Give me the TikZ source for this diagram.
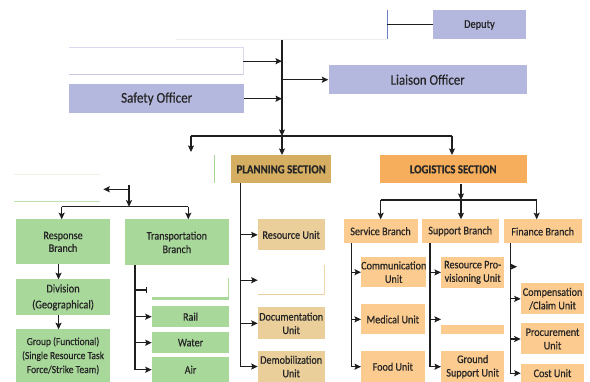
\documentclass[tikz,border=0pt]{standalone}
\usepackage{fontspec}
\setmainfont{Carlito}[FakeStretch=0.88, RawFeature={embolden=0.5}]
\usetikzlibrary{arrows.meta}
\definecolor{lav}{HTML}{B5B8DE}
\definecolor{gold}{HTML}{D5AE62}
\definecolor{tanu}{HTML}{EBCF9B}
\definecolor{org}{HTML}{F7AE5C}
\definecolor{lorg}{HTML}{FCCB8F}
\definecolor{grn}{HTML}{A9D89B}
\definecolor{txt}{HTML}{262626}
\definecolor{lnc}{HTML}{1E1E1E}
\tikzset{
 box/.style={inner sep=0pt, anchor=north west, text=txt, align=center, font=\fontsize{11.5}{13.5}\selectfont},
 arr/.style={draw=lnc, line width=1.2pt, -{Stealth[length=6.5pt,width=6pt,inset=1.2pt]}},
 conn/.style={draw=lnc, line width=1.2pt},
 faint/.style={line width=0.8pt},
}
\begin{document}
\begin{tikzpicture}[x=1pt,y=-1pt]
\useasboundingbox (0,0) rectangle (590,382);
\fill[white] (0,0) rectangle (590,382);

% faint remnants
\draw[faint, draw=black!7, line width=0.6pt] (176,39.3) -- (387,39.3);
\draw[faint, draw={rgb,255:red,107;green,127;blue,198}, line width=0.7pt] (387,10) -- (387,39.3);
\draw[faint, draw={rgb,255:red,217;green,218;blue,238}] (69,47.3) -- (243,47.3) -- (243,75);
\draw[faint, draw={rgb,255:red,197;green,199;blue,229}, line width=1.3pt] (69,74.5) -- (243,74.5);
\draw[faint, draw={rgb,255:red,243;green,239;blue,227}] (14.3,174.3) -- (100,174.3);
\draw[faint, draw={rgb,255:red,189;green,226;blue,177}, line width=1.4pt] (14.3,201.7) -- (100,201.7);
\draw[faint, draw={rgb,255:red,166;green,215;blue,151}, line width=1pt] (214,155) -- (214,183.3);
\draw[faint, draw={rgb,255:red,239;green,216;blue,174}] (324,265) -- (324,295);
\draw[faint, draw={rgb,255:red,233;green,207;blue,160}, line width=1.3pt] (257.7,294.5) -- (324.3,294.5);
\draw[faint, draw={rgb,255:red,180;green,220;blue,166}] (228.5,278.3) -- (228.5,297);
\fill[grn] (151.7,296.7) rectangle (229,300);
\fill[lorg] (441,325) rectangle (504,334.3);

% top
\node[box, minimum width=174pt, minimum height=28pt] (blank) at (69,47) {};
\node[box, fill=lav, minimum width=175pt, minimum height=29pt, font=\fontsize{14.8}{16}\selectfont] (safety) at (69,84) {Safety Officer};
\node[box, fill=lav, minimum width=92.5pt, minimum height=29pt, font=\fontsize{11.8}{14}\selectfont] (deputy) at (433,10.3) {Deputy};
\node[box, fill=lav, minimum width=198.4pt, minimum height=29pt, font=\fontsize{14.6}{16}\selectfont] (liaison) at (328.3,65) {Liaison Officer};

% planning
\node[box, fill=gold, minimum width=100pt, minimum height=28.3pt, font=\fontsize{12.3}{14}\selectfont\bfseries] (plan) at (231,155) {PLANNING SECTION};
\node[box, fill=tanu, minimum width=66.6pt, minimum height=30.7pt] (ru) at (257.7,219.3) {Resource Unit};
\node[box, minimum width=66.6pt, minimum height=30pt] (pe) at (257.7,265) {};
\node[box, fill=tanu, minimum width=66.6pt, minimum height=31.7pt] (du) at (257.7,307.3) {Documentation\\Unit};
\node[box, fill=tanu, minimum width=66.6pt, minimum height=31.3pt] (dm) at (257.7,350.7) {Demobilization\\Unit};

% logistics
\node[box, fill=org, minimum width=147.4pt, minimum height=28.3pt, font=\fontsize{12.3}{14}\selectfont\bfseries] (log) at (379.3,155) {LOGISTICS SECTION};
\node[box, fill=lorg, minimum width=74pt, minimum height=23.4pt] (sb) at (343.3,219.3) {Service Branch};
\node[box, fill=lorg, minimum width=76.6pt, minimum height=23.4pt] (spb) at (421.7,219.3) {Support Branch};
\node[box, fill=lorg, minimum width=78.4pt, minimum height=24pt] (fb) at (503.3,219.3) {Finance Branch};
\node[box, fill=lorg, minimum width=63.3pt, minimum height=30.6pt] (cu) at (361,256.7) {Communication\\Unit};
\node[box, fill=lorg, minimum width=63.3pt, minimum height=30.3pt] (mu) at (361,304) {Medical Unit};
\node[box, fill=lorg, minimum width=63.3pt, minimum height=31pt] (fu) at (361,351) {Food Unit};
\node[box, fill=lorg, minimum width=63pt, minimum height=31pt] (rp) at (441,256.7) {Resource Pro-\\visioning Unit};
\node[box, minimum width=63pt, minimum height=30.3pt] (se) at (441,304) {};
\node[box, fill=lorg, minimum width=63pt, minimum height=31pt] (gs) at (441,351) {Ground\\Support Unit};
\node[box, fill=lorg, minimum width=63.3pt, minimum height=30.7pt] (cc) at (520.7,283.3) {Compensation\\/Claim Unit};
\node[box, fill=lorg, minimum width=63.3pt, minimum height=31pt] (pu) at (520.7,323.3) {Procurement\\Unit};
\node[box, fill=lorg, minimum width=63.3pt, minimum height=18pt] (cost) at (520.7,364) {Cost Unit};

% left
\node[box, fill=grn, minimum width=94.3pt, minimum height=44.7pt, font=\fontsize{11.5}{12.7}\selectfont] (resp) at (15.7,219.3) {Response\\Branch};
\node[box, fill=grn, minimum width=104.7pt, minimum height=45.7pt] (trans) at (124.3,219.3) {Transportation\\Branch};
\node[box, fill=grn, minimum width=94.3pt, minimum height=35.7pt, font=\fontsize{11.8}{16}\selectfont] (div) at (15.7,279.3) {Division\\(Geographical)};
\node[box, fill=grn, minimum width=94.3pt, minimum height=52.7pt, font=\fontsize{10.8}{14}\selectfont] (grp) at (15.7,329.3) {Group (Functional)\\(Single Resource Task\\Force/Strike Team)};
\node[box, fill=grn, minimum width=77.3pt, minimum height=21pt] (rail) at (151.7,306) {Rail};
\node[box, fill=grn, minimum width=77.3pt, minimum height=21pt] (water) at (151.7,332) {Water};
\node[box, fill=grn, minimum width=77.3pt, minimum height=25pt] (air) at (151.7,357) {Air};

% top connectors
\coordinate (top) at (282,40);
\coordinate (j1) at (282,136);
\draw[arr] (top) -- (j1);
\draw[arr] (blank.east) -- (blank.east -| top);
\draw[arr] (safety.east) -- (safety.east -| top);
\draw[arr] (top |- liaison.west) -- (liaison.west);
\coordinate (dl) at (387,25);
\draw[conn, line width=1pt] (dl) -- (deputy.west);
\coordinate (hl) at (191,136);
\coordinate (hr) at (452,136);
\draw[conn] (hl) -- (hr);
\coordinate (stubL) at (191,152);
\draw[arr] (hl) -- (stubL);
\draw[arr] (j1) -- (j1 |- plan.north);
\draw[arr] (hr) -- (hr |- log.north);

% left connectors
\coordinate (lt) at (129,185);
\coordinate (lj) at (129,206.7);
\draw[arr] (lt) -- (lj);
\coordinate (la) at (103.3,189.3);
\draw[arr] (lt |- la) -- (la);
\coordinate (lL) at (61.7,206.7);
\coordinate (lR) at (188.3,206.7);
\draw[conn] (lL) -- (lR);
\draw[arr] (lL) -- (lL |- resp.north);
\draw[arr] (lR) -- (lR |- trans.north);
\draw[arr] ([xshift=-4.5pt]resp.south) -- ([xshift=-4.5pt]div.north);
\draw[arr] ([xshift=-4.5pt]div.south) -- ([xshift=-4.5pt]grp.north);
\coordinate (tv) at (135,265);
\draw[arr] (tv) |- (air.west);
\draw[arr] (tv |- rail.west) -- (rail.west);
\draw[arr] (tv |- water.west) -- (water.west);
\coordinate (tbs) at (147,290);
\draw[conn, -{Bar[width=6pt]}] (tv |- tbs) -- (tbs);

% planning connectors
\coordinate (pv) at (240.7,183.3);
\draw[arr] (pv) |- (dm.west);
\draw[arr] (pv |- ru.west) -- (ru.west);
\draw[arr] (pv |- pe.west) -- (pe.west);
\draw[arr] (pv |- du.west) -- (du.west);

% logistics connectors
\coordinate (gj) at (461,200);
\draw[arr] (gj |- log.south) -- (gj);
\coordinate (gL) at (380.7,200);
\coordinate (gR) at (536.7,200);
\draw[conn] (gL) -- (gR);
\draw[arr] (gL) -- (gL |- sb.north);
\draw[arr] (gj) -- (gj |- spb.north);
\draw[arr] (gR) -- (gR |- fb.north);

\coordinate (sv) at (351.7,242.7);
\draw[arr] (sv) |- (fu.west);
\draw[arr] (sv |- cu.west) -- (cu.west);
\draw[arr] (sv |- mu.west) -- (mu.west);

\coordinate (uv) at (430,242.7);
\draw[arr] (uv) |- (gs.west);
\draw[arr] (uv |- rp.west) -- (rp.west);
\draw[arr] (uv |- se.west) -- (se.west);

\coordinate (fv) at (510.5,243.3);
\draw[arr] (fv) |- (cost.west);
\draw[arr] (fv |- cc.west) -- (cc.west);
\draw[arr] (fv |- pu.west) -- (pu.west);
\coordinate (fs) at (517,266.7);
\draw[arr] (fv |- fs) -- (fs);
\end{tikzpicture}
\end{document}
